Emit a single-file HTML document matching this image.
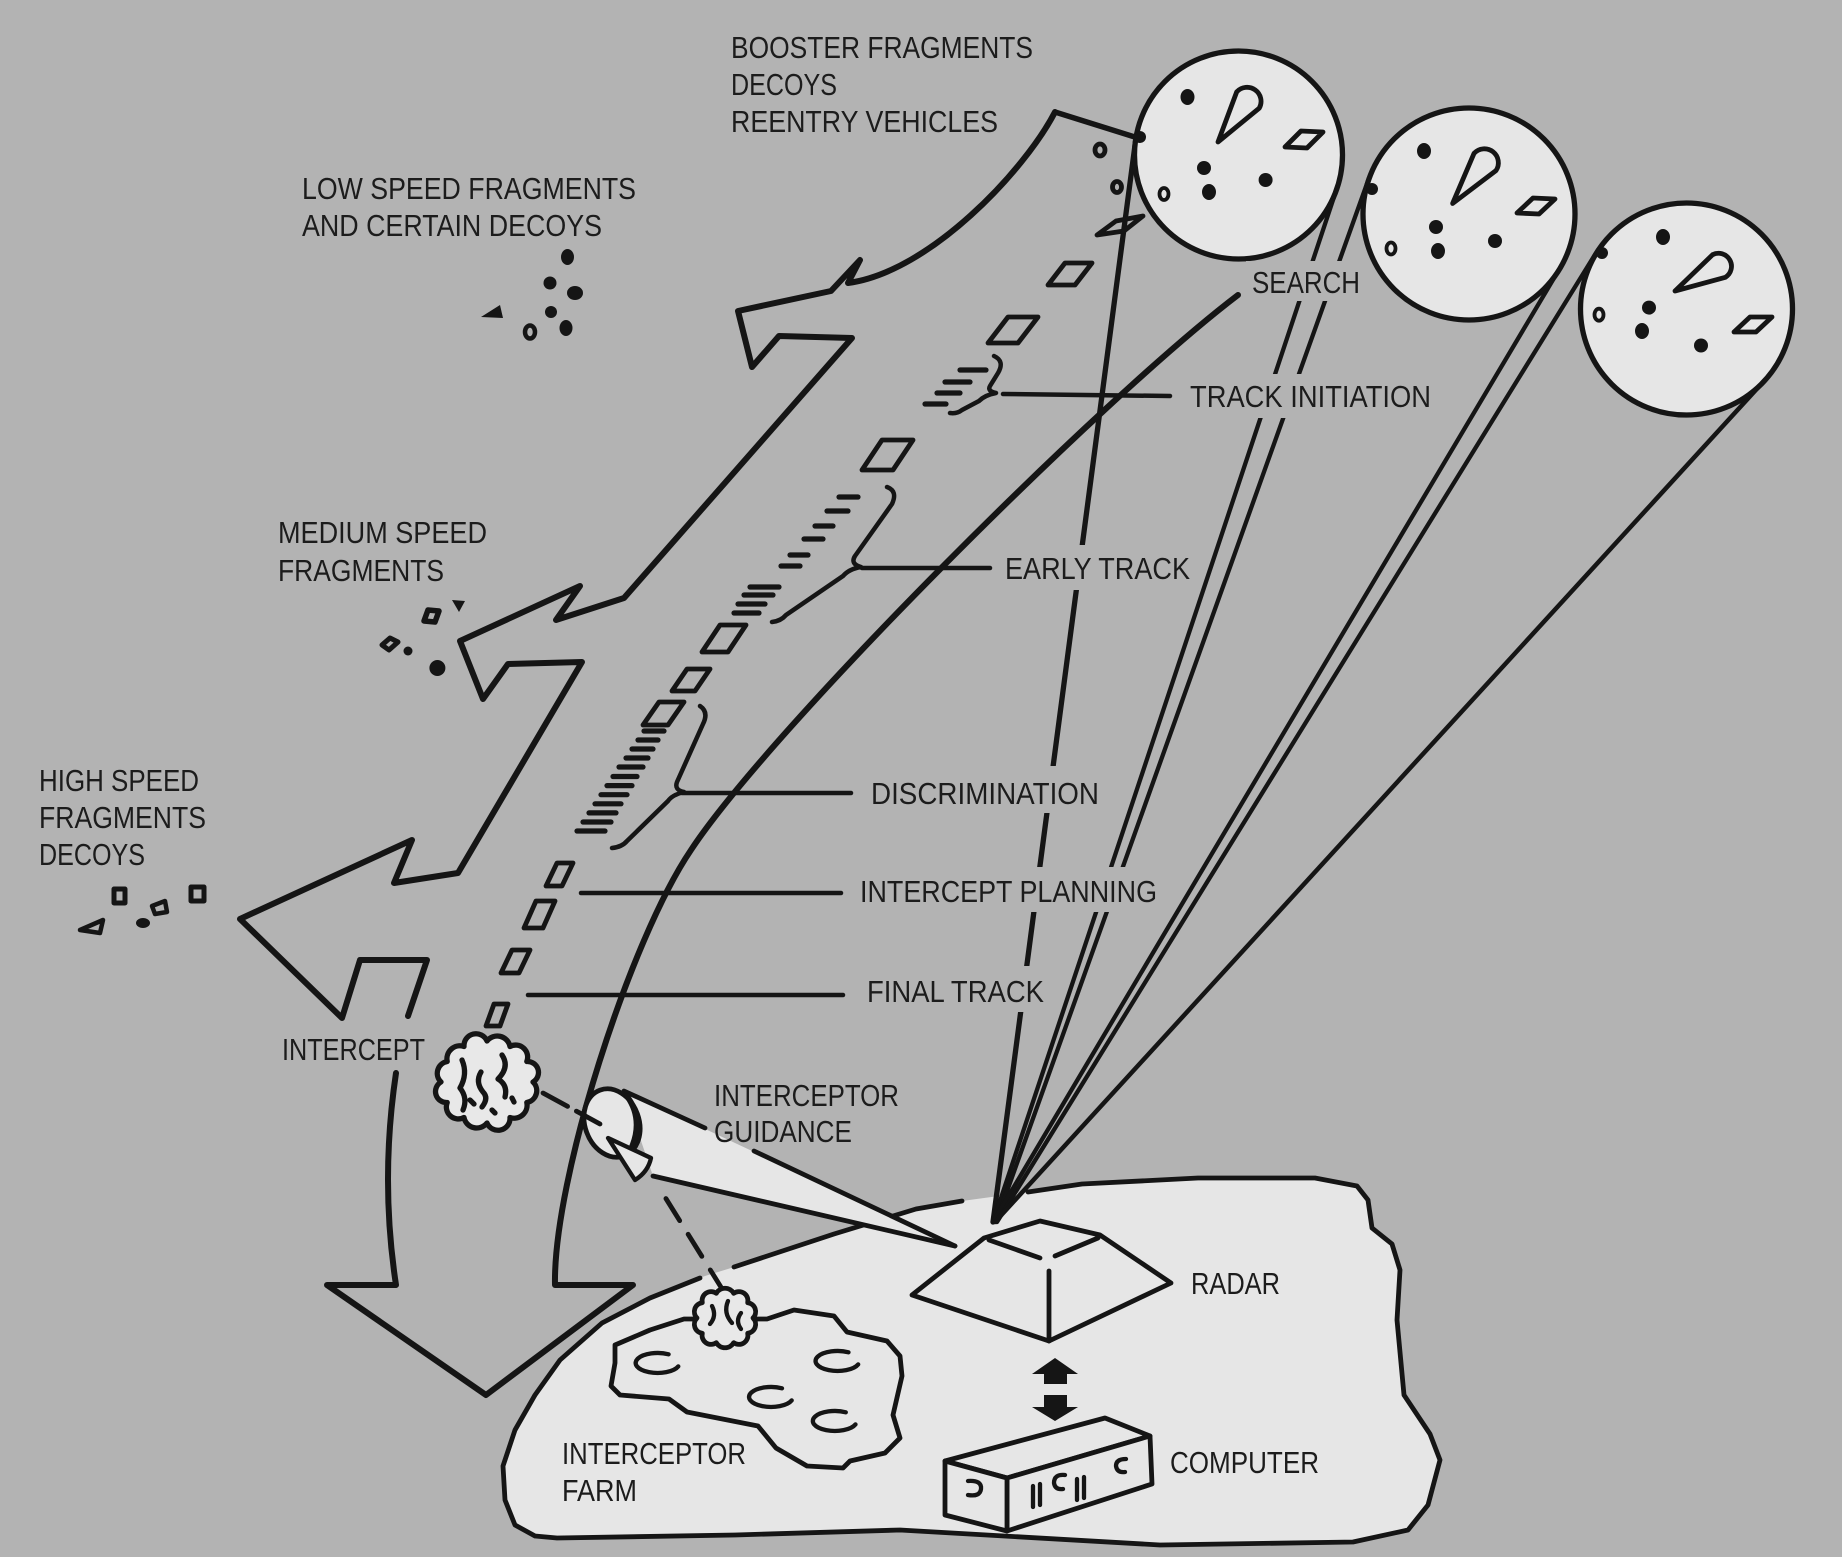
<!DOCTYPE html>
<html><head><meta charset="utf-8">
<style>
html,body{margin:0;padding:0;background:#b3b3b3;}
svg{display:block}
text{font-family:"Liberation Sans",Arial,sans-serif;font-size:31px;fill:#1c1c1c}
</style></head><body>
<svg width="1842" height="1557" viewBox="0 0 1842 1557" xmlns="http://www.w3.org/2000/svg">
<rect width="1842" height="1557" fill="#b3b3b3"/>

<!-- ground -->
<path fill="#e6e6e6" d="M705,1276 L731,1268 L834,1234 L916,1209 L962,1201 L1028,1192 L1082,1184 L1198,1178 L1315,1178 L1357,1186 L1368,1200 L1372,1228 L1392,1244 L1400,1270 L1397,1320 L1404,1395 L1430,1434 L1440,1460 L1428,1505 L1408,1530 L1353,1542 L1160,1545 L900,1530 L735,1535 L557,1538 L535,1536 L515,1525 L505,1500 L503,1466 L515,1430 L535,1395 L560,1360 L602,1323 L650,1298 Z"/>
<g fill="none" stroke="#151515" stroke-linecap="round" stroke-linejoin="round">
<path stroke-width="4.8" d="M734,1267 L834,1234 L916,1209 L962,1201 M1028,1192 L1082,1184 L1198,1178 L1315,1178 L1357,1186 L1368,1200 L1372,1228 L1392,1244 L1400,1270 L1397,1320 L1404,1395 L1430,1434 L1440,1460 L1428,1505 L1408,1530 L1353,1542 L1160,1545 L900,1530 L735,1535 L557,1538 L535,1536 L515,1525 L505,1500 L503,1466 L515,1430 L535,1395 L560,1360 L602,1323 L650,1298 L700,1278"/>

<!-- interceptor farm -->
<path fill="#e6e6e6" stroke-width="4.8" d="M615,1345 L650,1330 L684,1319 L767,1319 L794,1310 L834,1316 L847,1332 L887,1341 L900,1356 L902,1376 L893,1415 L900,1438 L885,1453 L850,1461 L843,1468 L807,1466 L776,1448 L758,1426 L687,1412 L669,1399 L620,1395 L611,1386 L615,1363 Z"/>
<g stroke-width="4.3">
<path d="M668.6,1354.3 A22 10 0 1 0 678.3,1366.4"/>
<path d="M848.5,1352.3 A22 10 0 1 0 858.2,1364.4"/>
<path d="M782,1388.3 A22 10 0 1 0 791.7,1400.4"/>
<path d="M845.8,1412.3 A22 10 0 1 0 855.5,1424.4"/>
</g>

<!-- radar beams -->
<line x1="993" y1="1222" x2="1135.5" y2="141.4" stroke-width="5.3"/>
<line x1="993" y1="1222" x2="1337" y2="188" stroke-width="4.3"/>
<line x1="996" y1="1222" x2="1369" y2="178" stroke-width="4.3"/>
<line x1="993" y1="1222" x2="1560" y2="268" stroke-width="4.3"/>
<line x1="997" y1="1222" x2="1596" y2="253" stroke-width="4.3"/>
<line x1="995" y1="1222" x2="1764.5" y2="380.5" stroke-width="4.5"/>

<!-- arrow top connection -->
<line x1="1055" y1="112" x2="1138" y2="138" stroke-width="5.5"/>

<!-- circles -->
<circle cx="1238.5" cy="155" r="104" fill="#e6e6e6" stroke-width="5.3"/>
<circle cx="1469" cy="214" r="106" fill="#e6e6e6" stroke-width="5.3"/>
<circle cx="1686.5" cy="309" r="106" fill="#e6e6e6" stroke-width="5.3"/>
</g>

<!-- circle contents -->
<g fill="#151515">
<ellipse cx="1187.5" cy="97" rx="7" ry="8"/><circle cx="1140" cy="137" r="6"/>
<circle cx="1204" cy="168" r="7"/><ellipse cx="1209" cy="192" rx="7" ry="8"/><circle cx="1265.6" cy="180" r="7"/>
<ellipse cx="1424" cy="151" rx="7" ry="8"/><circle cx="1372" cy="189" r="6"/>
<circle cx="1436" cy="227" r="7"/><ellipse cx="1438" cy="251" rx="7" ry="8"/><circle cx="1495" cy="241" r="7"/>
<ellipse cx="1663" cy="237" rx="7" ry="8"/><circle cx="1602" cy="253" r="6"/>
<circle cx="1649" cy="307.6" r="7"/><ellipse cx="1642" cy="331" rx="7" ry="8"/><circle cx="1701" cy="345.5" r="7"/>
</g>
<g fill="none" stroke="#151515" stroke-width="4.8" stroke-linejoin="round">
<path d="M1218,142 L1236.7,91.9 A14 14 0 0 1 1259.3,108.1 Z"/>
<path d="M1285,147 L1301,131 L1323,132 L1307,148 Z"/>
<ellipse cx="1164" cy="194" rx="4.5" ry="6" stroke-width="3.8"/>
<path d="M1452.6,203.5 L1474,153.4 A14 14 0 0 1 1496,170.6 Z"/>
<path d="M1517,213 L1533,198 L1555,199 L1539,214 Z"/>
<ellipse cx="1391" cy="248.5" rx="4.5" ry="6" stroke-width="3.8"/>
<path d="M1675,291 L1712.6,254.7 A13 13 0 0 1 1725.4,277.3 Z"/>
<path d="M1734,332 L1750,317 L1772,317 L1756,332 Z"/>
<ellipse cx="1599" cy="314.7" rx="4.5" ry="6" stroke-width="3.8"/>
</g>

<!-- big zigzag arrow -->
<g fill="none" stroke="#151515" stroke-width="6" stroke-linejoin="round" stroke-linecap="round">
<path d="M1055,112 C1025,170 930,272 848,283 L860,260 L831,291 L738,311 L752,367 L779,336 L852,338 L624,598 L556,620 L580,586 L460,641 L483,699 L508,664 L582,662 L458,873 L394,883 L412,840 L240,919 L342,1018 L360,960 L427,960 L408,1016"/>
<path d="M396,1073 Q380,1180 396,1285 L327,1285 L486,1395 L633,1285 L555,1285 C553,1180 630,940 691,850 C770,730 1100,400 1238,295"/>
</g>

<!-- track objects -->
<g fill="none" stroke="#151515" stroke-width="4.8" stroke-linejoin="round">
<ellipse cx="1100" cy="150" rx="5" ry="6"/>
<ellipse cx="1117" cy="187" rx="4.5" ry="5.5"/>
<path d="M1097,235 L1116,221 L1143,216 L1124,231 Z"/>
<path d="M1048,285 L1065,263 L1092,263 L1075,285 Z"/>
<path d="M988,343 L1008,317 L1038,317 L1018,343 Z"/>
<path d="M862,470 L882,440 L913,440 L893,470 Z"/>
<path d="M702,652 L720,625 L746,625 L728,652 Z"/>
<path d="M672,691 L687,669 L710,669 L695,691 Z"/>
<path d="M643,725 L659,702 L684,702 L668,725 Z"/>
<path d="M546,886 L557,863 L573,863 L562,886 Z"/>
<path d="M524,928 L536,901 L555,901 L543,928 Z"/>
<path d="M501,973 L512,950 L530,950 L519,973 Z"/>
<path d="M486,1026 L494,1004 L508,1004 L500,1026 Z"/>
</g>
<g stroke="#151515" stroke-width="5.2" stroke-linecap="round">
<line x1="960" y1="370" x2="986" y2="370"/><line x1="945" y1="382" x2="970" y2="382"/>
<line x1="937" y1="393" x2="960" y2="393"/><line x1="925" y1="404" x2="946" y2="404"/>
<line x1="839" y1="497" x2="858" y2="497"/><line x1="827" y1="511" x2="848" y2="511"/>
<line x1="815" y1="526" x2="833" y2="526"/><line x1="804" y1="539" x2="823" y2="539"/>
<line x1="790" y1="555" x2="808" y2="555"/><line x1="781" y1="566" x2="800" y2="566"/>
<line x1="750" y1="587" x2="779" y2="587"/><line x1="744" y1="595" x2="773" y2="595"/>
<line x1="738" y1="604" x2="765" y2="604"/><line x1="734" y1="613" x2="759" y2="613"/>
<line x1="644" y1="731" x2="664" y2="731"/><line x1="638" y1="740" x2="658" y2="740"/>
<line x1="632" y1="749" x2="653" y2="749"/><line x1="626" y1="758" x2="648" y2="758"/>
<line x1="619" y1="767" x2="643" y2="767"/><line x1="613" y1="776.5" x2="637" y2="776.5"/>
<line x1="607" y1="785.6" x2="632" y2="785.6"/><line x1="601" y1="794.7" x2="627" y2="794.7"/>
<line x1="595" y1="803.8" x2="621" y2="803.8"/><line x1="589" y1="812.9" x2="616" y2="812.9"/>
<line x1="583" y1="822" x2="611" y2="822"/><line x1="577" y1="831" x2="605" y2="831"/>
</g>

<!-- braces and leaders -->
<g fill="none" stroke="#151515" stroke-width="4.5" stroke-linecap="round" stroke-linejoin="round">
<path d="M994,356 Q1005,361 998,373 L990,386 Q987,391 996,393 Q985,395 979,401 L962,410 Q957,414 950,413"/>
<path d="M887,487 Q898,491 892,504 L855,556 Q850,564 861,567 Q849,569 843,576 L786,615 Q781,621 772,622"/>
<path d="M700,706 Q709,712 703,724 L677,782 Q674,790 684,792 Q672,795 668,801 L627,841 Q622,847 612,848"/>
<line x1="1003" y1="394" x2="1170" y2="396"/>
<line x1="862" y1="568" x2="990" y2="568"/>
<line x1="682" y1="793" x2="851" y2="793"/>
<line x1="581" y1="893" x2="841" y2="893"/>
<line x1="528" y1="995" x2="843" y2="995"/>
</g>

<!-- label backgrounds (gaps in beams) -->
<g fill="#b3b3b3">
<rect x="1246" y="261" width="120" height="40"/>
<rect x="1184" y="374" width="253" height="44"/>
<rect x="999" y="545" width="197" height="45"/>
<rect x="865" y="766" width="240" height="47"/>
<rect x="854" y="867" width="309" height="45"/>
<rect x="861" y="966" width="189" height="46"/>
</g>

<!-- fragments -->
<g fill="#151515">
<ellipse cx="567.5" cy="257" rx="6.5" ry="8"/>
<circle cx="550" cy="283" r="6.5"/>
<ellipse cx="575" cy="293" rx="8" ry="7"/>
<circle cx="551" cy="312" r="6"/>
<ellipse cx="566" cy="328" rx="6.5" ry="8"/>
<path d="M481,317 L500,305 L503,318 Z"/>
<path d="M452,600 L465,601 L459,612 Z"/>
<circle cx="408" cy="651" r="4.5"/>
<circle cx="437.4" cy="668" r="8"/>
<ellipse cx="143" cy="923" rx="7" ry="5"/>
</g>
<g fill="none" stroke="#151515" stroke-width="4.5" stroke-linejoin="round">
<ellipse cx="530" cy="332" rx="5" ry="6.5"/>
<path d="M424,621 L428,610 L439,611 L435,622 Z" stroke-width="5.5"/>
<path d="M382,645 L390,638 L398,642 L389,650 Z" stroke-width="5"/>
<rect x="114" y="889" width="11" height="14" stroke-width="5"/>
<rect x="191" y="887" width="13" height="14" stroke-width="5"/>
<path d="M152,906 L165,901 L167,912 L155,914 Z"/>
<path d="M80,930 L103,920 L100,933 Z"/>
</g>

<!-- interceptor guidance cone -->
<path fill="#e6e6e6" d="M624,1091 L955,1246 L653,1176 Z"/>
<g fill="none" stroke="#151515" stroke-width="4.8" stroke-linecap="round" stroke-linejoin="round">
<path d="M624,1091 L705,1128 M754,1151 L955,1246"/>
<path d="M653,1176 L955,1246"/>
<ellipse cx="612" cy="1123" rx="27" ry="35" transform="rotate(-20 612 1123)" fill="#e6e6e6"/>
<path d="M627,1096 Q644,1120 631,1149" stroke-width="5.8"/>
<path d="M608,1138 L651,1158 Q648,1172 635,1180 Z" fill="#e6e6e6" stroke-width="4.3"/>
<line x1="724" y1="1292" x2="660" y2="1189" stroke-dasharray="26 16"/>
<line x1="543" y1="1093" x2="600" y2="1124" stroke-dasharray="28 10"/>
</g>

<!-- intercept blob -->
<g stroke="#151515" stroke-linecap="round" stroke-linejoin="round">
<path fill="#e8e8e8" stroke-width="5.3" d="M533,1082 A12 12 0 0 1 526.8,1102.5 A13 13 0 0 1 510,1117.5 A12 12 0 0 1 487,1123 A13 13 0 0 1 464,1117.5 A12 12 0 0 1 447.2,1102.5 A11 11 0 0 1 441,1082 A12 12 0 0 1 447.2,1061.5 A13 13 0 0 1 464,1046.5 A12 12 0 0 1 487,1041 A13 13 0 0 1 510,1046.5 A12 12 0 0 1 526.8,1061.5 A11 11 0 0 1 533,1082 Z"/>
<g fill="none" stroke-width="5.3">
<path d="M462,1060 q6,14 -2,28 q8,10 3,22"/>
<path d="M481,1072 q-6,10 2,20 q6,6 -1,15"/>
<path d="M502,1055 q8,12 -4,24 q10,6 7,18"/>
<path d="M470,1100 l4,4 M492,1110 l3,3 M512,1098 l2,4"/>
</g>
<!-- farm blob -->
<path fill="#e8e8e8" stroke-width="4.8" d="M753,1318 A9 9 0 0 1 747.7,1333.3 A9 9 0 0 1 733.7,1342.7 A10 10 0 0 1 716.3,1342.7 A9 9 0 0 1 702.3,1333.3 A9 9 0 0 1 697,1318 A9 9 0 0 1 702.3,1302.7 A9 9 0 0 1 716.3,1293.3 A10 10 0 0 1 733.7,1293.3 A9 9 0 0 1 747.7,1302.7 A9 9 0 0 1 753,1318 Z"/>
<g fill="none" stroke-width="4.3">
<path d="M712,1306 q5,10 -2,18"/>
<path d="M728,1301 q-5,12 4,22"/>
<path d="M741,1313 q-6,8 0,16"/>
</g>
</g>

<!-- radar -->
<path fill="#e6e6e6" d="M912,1295 L984,1238 L1040,1221 L1100,1235 L1171,1283 L1049,1341 Z"/>
<g fill="none" stroke="#151515" stroke-width="4.8" stroke-linecap="round" stroke-linejoin="round">
<path d="M912,1295 L984,1238 L1040,1221 L1100,1235 L1171,1283 L1049,1341 Z"/>
<path d="M989,1240 L1040,1258 M1055,1256 L1098,1238 M1049,1271 L1049,1341"/>
</g>
<!-- double arrow -->
<g fill="#151515">
<path d="M1055,1358 L1078,1374 L1067,1374 L1067,1384 L1044,1384 L1044,1374 L1032,1374 Z"/>
<path d="M1044,1395 L1067,1395 L1067,1407 L1078,1407 L1055,1421 L1032,1407 L1044,1407 Z"/>
</g>
<!-- computer -->
<g fill="#e6e6e6" stroke="#151515" stroke-width="4.8" stroke-linejoin="round">
<path d="M945,1461 L1105,1418 L1150,1436 L1007,1478 Z"/>
<path d="M1007,1478 L1150,1436 L1152,1484 L1007,1531 Z"/>
<path d="M945,1461 L1007,1478 L1007,1531 L945,1515 Z"/>
</g>
<g fill="none" stroke="#151515" stroke-width="4.3" stroke-linecap="round">
<path d="M968,1481 Q982,1480 981,1489 Q980,1497 968,1495"/>
<path d="M1033,1486 L1033,1507 M1040,1484 L1040,1505"/>
<path d="M1065,1475 Q1054,1474 1054,1483 Q1055,1490 1063,1489"/>
<path d="M1077,1479 L1077,1500 M1084,1477 L1084,1498"/>
<path d="M1126,1459 Q1116,1459 1116,1466 Q1117,1473 1125,1472"/>
</g>

<!-- labels -->
<text x="731" y="58" textLength="302" lengthAdjust="spacingAndGlyphs">BOOSTER FRAGMENTS</text>
<text x="731" y="95" textLength="106" lengthAdjust="spacingAndGlyphs">DECOYS</text>
<text x="731" y="132" textLength="267" lengthAdjust="spacingAndGlyphs">REENTRY VEHICLES</text>
<text x="302" y="199" textLength="334" lengthAdjust="spacingAndGlyphs">LOW SPEED FRAGMENTS</text>
<text x="302" y="236" textLength="300" lengthAdjust="spacingAndGlyphs">AND CERTAIN DECOYS</text>
<text x="1252" y="293" textLength="108" lengthAdjust="spacingAndGlyphs">SEARCH</text>
<text x="1190" y="407" textLength="241" lengthAdjust="spacingAndGlyphs">TRACK INITIATION</text>
<text x="278" y="543" textLength="209" lengthAdjust="spacingAndGlyphs">MEDIUM SPEED</text>
<text x="278" y="581" textLength="166" lengthAdjust="spacingAndGlyphs">FRAGMENTS</text>
<text x="1005" y="579" textLength="185" lengthAdjust="spacingAndGlyphs">EARLY TRACK</text>
<text x="39" y="791" textLength="160" lengthAdjust="spacingAndGlyphs">HIGH SPEED</text>
<text x="39" y="828" textLength="167" lengthAdjust="spacingAndGlyphs">FRAGMENTS</text>
<text x="39" y="865" textLength="106" lengthAdjust="spacingAndGlyphs">DECOYS</text>
<text x="871" y="804" textLength="228" lengthAdjust="spacingAndGlyphs">DISCRIMINATION</text>
<text x="860" y="902" textLength="297" lengthAdjust="spacingAndGlyphs">INTERCEPT PLANNING</text>
<text x="867" y="1002" textLength="177" lengthAdjust="spacingAndGlyphs">FINAL TRACK</text>
<text x="282" y="1060" textLength="143" lengthAdjust="spacingAndGlyphs">INTERCEPT</text>
<text x="714" y="1106" textLength="185" lengthAdjust="spacingAndGlyphs">INTERCEPTOR</text>
<text x="714" y="1142" textLength="138" lengthAdjust="spacingAndGlyphs">GUIDANCE</text>
<text x="1191" y="1294" textLength="89" lengthAdjust="spacingAndGlyphs">RADAR</text>
<text x="562" y="1464" textLength="184" lengthAdjust="spacingAndGlyphs">INTERCEPTOR</text>
<text x="562" y="1501" textLength="75" lengthAdjust="spacingAndGlyphs">FARM</text>
<text x="1170" y="1473" textLength="149" lengthAdjust="spacingAndGlyphs">COMPUTER</text>
</svg>
</body></html>
